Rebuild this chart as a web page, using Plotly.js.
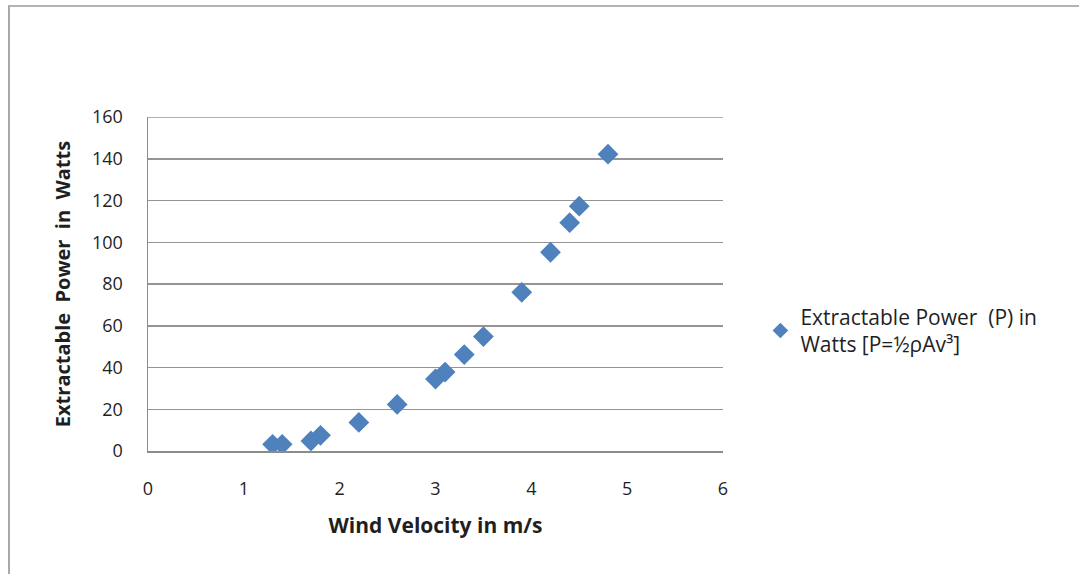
<!DOCTYPE html>
<html>
<head>
<meta charset="utf-8">
<script src="https://cdn.plot.ly/plotly-3.0.1.min.js"></script>
<style>
  html, body { margin: 0; padding: 0; background: #fff; }
  #frame { position: absolute; left: 8px; top: 5px; width: 1100px; height: 567px;
           border-left: 2px solid #a9a9a9; border-top: 2px solid #b3b3b3; border-bottom: 1px solid #dcdcdc; }
  #chart { position: absolute; left: 0; top: 0; width: 1079px; height: 574px; }
</style>
</head>
<body>
<div id="frame"></div>
<div id="chart"></div>
<script>
// Wind velocity (m/s) and extractable power (W)
const windVelocity = [1.3, 1.4, 1.7, 1.8, 2.2, 2.6, 3.0, 3.1, 3.3, 3.5, 3.9, 4.2, 4.4, 4.5, 4.8];
const powerWatts   = [3.2, 3.2, 4.8, 7.5, 13.7, 22.3, 34.5, 37.8, 46.2, 54.8, 76.0, 95.2, 109.4, 117.3, 142.2];
const seriesName = 'Extractable Power  (P) in<br>Watts [P=½ρAv³]';
const xTicks = [0, 1, 2, 3, 4, 5, 6];
const yTicks = [0, 20, 40, 60, 80, 100, 120, 140, 160];

const font = "'Open Sans', 'Noto Sans', sans-serif";
const textColor = '#1f1f1f';

const trace = {
  x: windVelocity, y: powerWatts, name: seriesName,
  type: 'scatter', mode: 'markers', showlegend: true,
  marker: { symbol: 'diamond', size: 16, color: '#4f81bd', line: { width: 0 } }
};

const layout = {
  width: 1079, height: 574,
  paper_bgcolor: 'rgba(0,0,0,0)', plot_bgcolor: 'rgba(0,0,0,0)',
  margin: { l: 148, r: 356, t: 117, b: 123 },
  font: { family: font, size: 18, color: textColor },
  showlegend: true,
  legend: { x: 1.065, xanchor: 'left', y: 0.36, yanchor: 'middle', itemsizing: 'constant',
            font: { family: font, size: 21, color: textColor }, bgcolor: 'rgba(0,0,0,0)' },
  xaxis: {
    range: [0, 6], tickvals: xTicks, ticks: '', showgrid: false, zeroline: false,
    showline: true, linecolor: '#8c8c8c', linewidth: 1.5, ticklabelstandoff: 21,
    tickfont: { family: font, size: 18, color: textColor },
    title: { text: '<b>Wind Velocity in m/s</b>', font: { family: font, size: 21, color: textColor }, standoff: 19 }
  },
  yaxis: {
    range: [0, 160], tickvals: yTicks, ticks: '', showgrid: true, gridcolor: '#959595', gridwidth: 1.5,
    zeroline: false, showline: true, linecolor: '#8c8c8c', linewidth: 1.5, ticklabelstandoff: 20,
    tickfont: { family: font, size: 18, color: textColor },
    title: { text: '<b>Extractable  Power  in  Watts</b>', font: { family: font, size: 20, color: textColor }, standoff: 16 }
  },
  shapes: [{ type: 'line', xref: 'paper', yref: 'y', x0: 0, x1: 1, y0: 160, y1: 160,
             line: { color: '#959595', width: 1.5 } }]
};

Plotly.newPlot('chart', [trace], layout, { displayModeBar: false, staticPlot: true });
</script>
</body>
</html>
